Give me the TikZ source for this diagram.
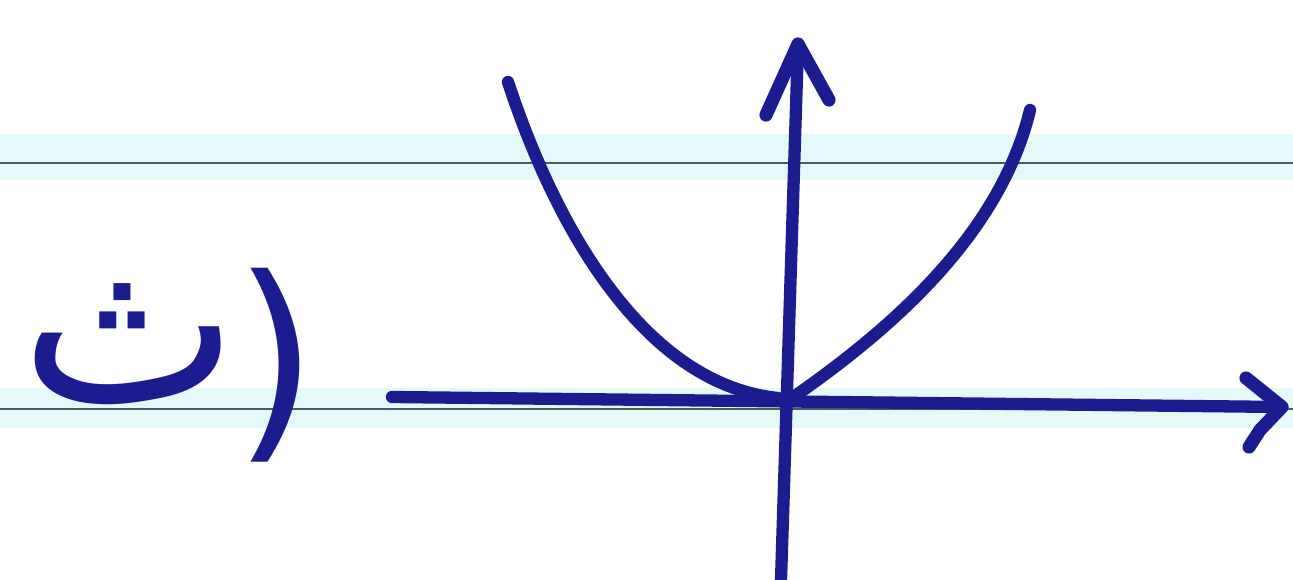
\documentclass[tikz,border=0pt]{standalone}
\usepackage{fontspec}
\newfontfamily\arabicfont[Script=Arabic]{DejaVu Sans}
\newfontfamily\parfont{DejaVu Sans}
\definecolor{ink}{RGB}{28,28,145}
\definecolor{band}{RGB}{228,250,250}
\definecolor{rule}{RGB}{80,90,90}
\tikzset{
  pen/.style={draw=ink, line width=7pt, line cap=round, line join=round},
  barb/.style={draw=ink, line width=7.5pt, line cap=round, line join=round},
  ruleline/.style={draw=rule, line width=1.2pt},
  bandfill/.style={fill=band, draw=none}
}
\begin{document}
\begin{tikzpicture}[x=0.02cm, y=-0.02cm]
\useasboundingbox (0,0) rectangle (1293,580);
\fill[white] (0,0) rectangle (1293,580);
% notebook bands and rules
\path[bandfill] (0,134) rectangle (1293,180);
\path[bandfill] (0,388) rectangle (1293,428);
\coordinate (r1a) at (0,163);
\coordinate (r1b) at (1293,163);
\coordinate (r2a) at (0,409);
\coordinate (r2b) at (1293,409);
\draw[ruleline] (r1a) -- (r1b);
\draw[ruleline] (r2a) -- (r2b);
% axes
\coordinate (xs) at (392,397);
\coordinate (xt) at (1282,407);
\coordinate (xb1) at (1246,378);
\coordinate (xbm) at (1260,430);
\coordinate (xb2) at (1249,447);
\coordinate (ys) at (781,580);
\coordinate (yt) at (798,44);
\coordinate (yb1) at (766,115);
\coordinate (yb2) at (829,100);
\draw[pen] (xs) -- (xt);
\draw[barb] (xb1) -- (xt) -- (xbm) -- (xb2);
\draw[pen] (ys) -- (yt);
\draw[barb] (yb1) -- (yt) -- (yb2);
% parabola-like curve
\coordinate (la) at (508,82);
\coordinate (lb) at (778,398);
\coordinate (ra) at (792,398);
\coordinate (rb) at (1030,110);
\draw[pen] (la) .. controls (560,240) and (650,385) .. (lb);
\draw[pen] (ra) .. controls (890,330) and (1000,235) .. (rb);
% label
\node[text=ink, inner sep=0pt, anchor=base] (lbl) at (130,402) {\arabicfont\fontsize{132}{150}\selectfont ث};
\node[text=ink, inner sep=0pt] (par) at (276,365) {\parfont\fontsize{124}{140}\selectfont )};
\end{tikzpicture}
\end{document}
